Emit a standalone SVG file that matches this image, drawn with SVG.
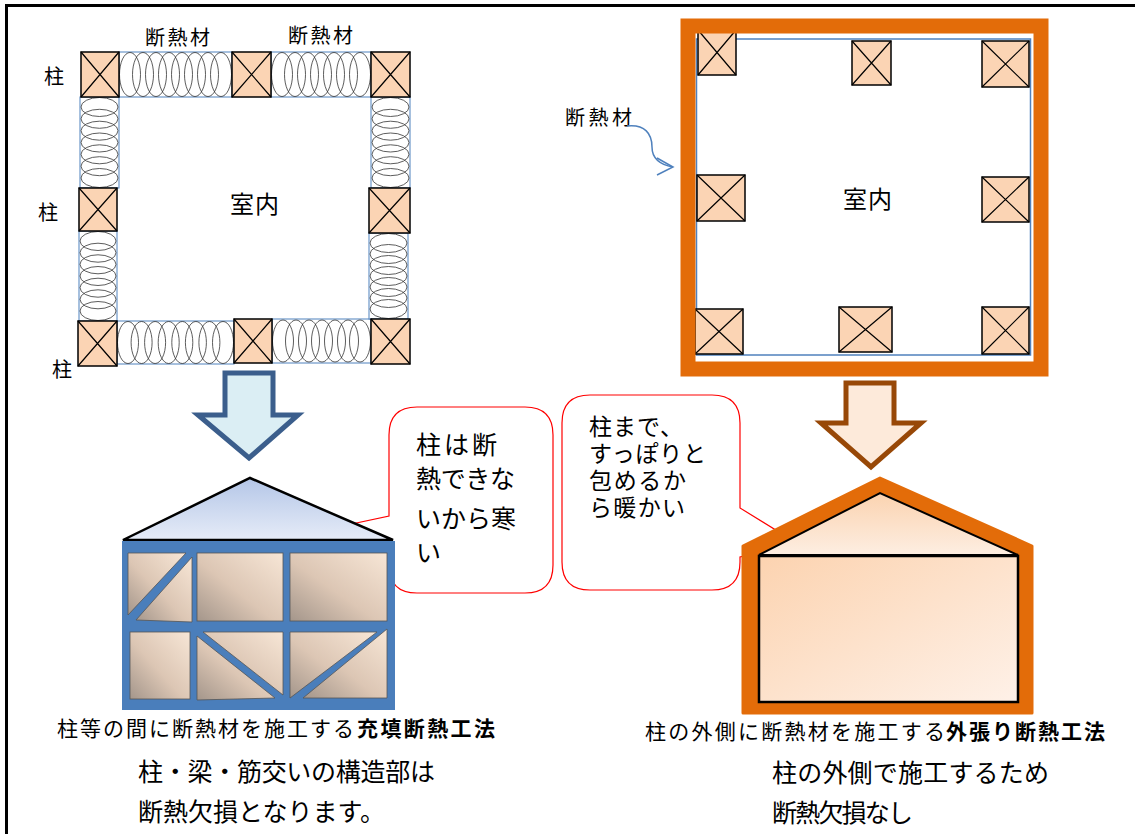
<svg xmlns="http://www.w3.org/2000/svg" width="1135" height="834" viewBox="0 0 1135 834">
  <style>
    text { font-family: "Noto Sans CJK JP", "Noto Sans", sans-serif; fill: #000; }
    .lbl { font-size: 20px; }
    .room { font-size: 24px; }
    .cap { font-size: 21px; }
    .capb { font-size: 21px; font-weight: bold; }
    .note { font-size: 25px; }
    .bub { font-size: 25px; }
    .bub2 { font-size: 23px; }
    .col rect { fill: #fbd4b4; stroke: #000; stroke-width: 1.5; }
    .col path { stroke: #000; stroke-width: 1.2; fill: none; }
    .ins rect { fill: #fff; stroke: #4f81bd; stroke-width: 1; }
    .ins ellipse { fill: none; stroke: #333; stroke-width: 0.8; }
    .panel { fill: url(#panelGrad); stroke: #555; stroke-width: 0.8; }
    .callout { fill: #fff; stroke: #ff0000; stroke-width: 1.2; }
  </style>
  <defs>
    <linearGradient id="panelGrad" x1="1" y1="0" x2="0" y2="1">
      <stop offset="0" stop-color="#f7e6d6"/>
      <stop offset="0.55" stop-color="#dcc6b4"/>
      <stop offset="1" stop-color="#a4968b"/>
    </linearGradient>
    <linearGradient id="roofBlue" x1="0" y1="0" x2="0" y2="1">
      <stop offset="0" stop-color="#b4c6e7"/>
      <stop offset="1" stop-color="#e6ecf8"/>
    </linearGradient>
    <linearGradient id="roofPeach" x1="0" y1="0" x2="0" y2="1">
      <stop offset="0" stop-color="#fbd3b0"/>
      <stop offset="1" stop-color="#fdeee2"/>
    </linearGradient>
    <linearGradient id="wallPeach" x1="0" y1="0" x2="1" y2="1">
      <stop offset="0" stop-color="#fcd3b0"/>
      <stop offset="1" stop-color="#fef1e8"/>
    </linearGradient>
  </defs>

  <rect width="1135" height="834" fill="#fff"/>

  <!-- outer frame (top and left edges) -->
  <g id="frame" stroke="#000" stroke-width="3">
    <line x1="5" y1="5.5" x2="1135" y2="5.5"/>
    <line x1="6.5" y1="4" x2="6.5" y2="834"/>
  </g>

  <!-- ===== Left plan: insulation between columns ===== -->
  <g id="plan-left">
    <g class="ins">
      <rect x="119" y="52" width="113" height="45"/>
      <ellipse cx="130" cy="74.5" rx="10.5" ry="22"/><ellipse cx="143" cy="74.5" rx="10.5" ry="22"/>
      <ellipse cx="156" cy="74.5" rx="10.5" ry="22"/><ellipse cx="169" cy="74.5" rx="10.5" ry="22"/>
      <ellipse cx="182" cy="74.5" rx="10.5" ry="22"/><ellipse cx="195" cy="74.5" rx="10.5" ry="22"/>
      <ellipse cx="208" cy="74.5" rx="10.5" ry="22"/><ellipse cx="221" cy="74.5" rx="10.5" ry="22"/>

      <rect x="271" y="52" width="100" height="45"/>
      <ellipse cx="282" cy="74.5" rx="10.5" ry="22"/><ellipse cx="295" cy="74.5" rx="10.5" ry="22"/>
      <ellipse cx="308" cy="74.5" rx="10.5" ry="22"/><ellipse cx="321" cy="74.5" rx="10.5" ry="22"/>
      <ellipse cx="334" cy="74.5" rx="10.5" ry="22"/><ellipse cx="347" cy="74.5" rx="10.5" ry="22"/>
      <ellipse cx="360" cy="74.5" rx="10.5" ry="22"/>

      <rect x="117" y="321" width="117" height="43"/>
      <ellipse cx="128" cy="342.5" rx="10.5" ry="21"/><ellipse cx="141.6" cy="342.5" rx="10.5" ry="21"/>
      <ellipse cx="155.1" cy="342.5" rx="10.5" ry="21"/><ellipse cx="168.7" cy="342.5" rx="10.5" ry="21"/>
      <ellipse cx="182.3" cy="342.5" rx="10.5" ry="21"/><ellipse cx="195.9" cy="342.5" rx="10.5" ry="21"/>
      <ellipse cx="209.4" cy="342.5" rx="10.5" ry="21"/><ellipse cx="223" cy="342.5" rx="10.5" ry="21"/>

      <rect x="272" y="319" width="99" height="44"/>
      <ellipse cx="283" cy="341" rx="10.5" ry="21"/><ellipse cx="296" cy="341" rx="10.5" ry="21"/>
      <ellipse cx="309" cy="341" rx="10.5" ry="21"/><ellipse cx="322" cy="341" rx="10.5" ry="21"/>
      <ellipse cx="335" cy="341" rx="10.5" ry="21"/><ellipse cx="348" cy="341" rx="10.5" ry="21"/>
      <ellipse cx="360" cy="341" rx="10.5" ry="21"/>

      <rect x="80" y="97" width="39" height="91"/>
      <ellipse cx="99.5" cy="107" rx="18.5" ry="9.5"/><ellipse cx="99.5" cy="118.8" rx="18.5" ry="9.5"/>
      <ellipse cx="99.5" cy="130.7" rx="18.5" ry="9.5"/><ellipse cx="99.5" cy="142.5" rx="18.5" ry="9.5"/>
      <ellipse cx="99.5" cy="154.3" rx="18.5" ry="9.5"/><ellipse cx="99.5" cy="166.2" rx="18.5" ry="9.5"/>
      <ellipse cx="99.5" cy="178" rx="18.5" ry="9.5"/>

      <rect x="371" y="97" width="39" height="91"/>
      <ellipse cx="390.5" cy="107" rx="18.5" ry="9.5"/><ellipse cx="390.5" cy="118.8" rx="18.5" ry="9.5"/>
      <ellipse cx="390.5" cy="130.7" rx="18.5" ry="9.5"/><ellipse cx="390.5" cy="142.5" rx="18.5" ry="9.5"/>
      <ellipse cx="390.5" cy="154.3" rx="18.5" ry="9.5"/><ellipse cx="390.5" cy="166.2" rx="18.5" ry="9.5"/>
      <ellipse cx="390.5" cy="178" rx="18.5" ry="9.5"/>

      <rect x="79" y="231" width="38" height="90"/>
      <ellipse cx="98" cy="241" rx="18" ry="9.5"/><ellipse cx="98" cy="252.7" rx="18" ry="9.5"/>
      <ellipse cx="98" cy="264.3" rx="18" ry="9.5"/><ellipse cx="98" cy="276" rx="18" ry="9.5"/>
      <ellipse cx="98" cy="287.7" rx="18" ry="9.5"/><ellipse cx="98" cy="299.3" rx="18" ry="9.5"/>
      <ellipse cx="98" cy="311" rx="18" ry="9.5"/>

      <rect x="369" y="233" width="39" height="86"/>
      <ellipse cx="388.5" cy="243" rx="18.5" ry="9.5"/><ellipse cx="388.5" cy="254" rx="18.5" ry="9.5"/>
      <ellipse cx="388.5" cy="265" rx="18.5" ry="9.5"/><ellipse cx="388.5" cy="276" rx="18.5" ry="9.5"/>
      <ellipse cx="388.5" cy="287" rx="18.5" ry="9.5"/><ellipse cx="388.5" cy="298" rx="18.5" ry="9.5"/>
      <ellipse cx="388.5" cy="309" rx="18.5" ry="9.5"/>
    </g>

    <g class="col">
      <rect x="81" y="52" width="38" height="45"/><path d="M81 52L119 97M119 52L81 97"/>
      <rect x="232" y="52" width="39" height="45"/><path d="M232 52L271 97M271 52L232 97"/>
      <rect x="371" y="52" width="39" height="45"/><path d="M371 52L410 97M410 52L371 97"/>
      <rect x="79" y="188" width="38" height="43"/><path d="M79 188L117 231M117 188L79 231"/>
      <rect x="369" y="188" width="41" height="45"/><path d="M369 188L410 233M410 188L369 233"/>
      <rect x="78" y="321" width="39" height="45"/><path d="M78 321L117 366M117 321L78 366"/>
      <rect x="234" y="319" width="38" height="44"/><path d="M234 319L272 363M272 319L234 363"/>
      <rect x="371" y="319" width="39" height="45"/><path d="M371 319L410 364M410 319L371 364"/>
    </g>

    <text class="lbl" x="145" y="45" textLength="65" lengthAdjust="spacing">断熱材</text>
    <text class="lbl" x="288" y="43" textLength="65" lengthAdjust="spacing">断熱材</text>
    <text class="lbl" x="44" y="84">柱</text>
    <text class="lbl" x="38" y="220">柱</text>
    <text class="lbl" x="52" y="377">柱</text>
    <text class="room" x="230" y="213" textLength="49" lengthAdjust="spacing">室内</text>
  </g>

  <!-- ===== Right plan: insulation outside columns ===== -->
  <g id="plan-right">
    <rect x="696.5" y="39" width="334" height="316" fill="none" stroke="#4f81bd" stroke-width="1.5"/>
    <g class="col">
      <rect x="698" y="30" width="38" height="45"/><path d="M698 30L736 75M736 30L698 75"/>
      <rect x="852" y="41" width="39" height="44"/><path d="M852 41L891 85M891 41L852 85"/>
      <rect x="982" y="41" width="47" height="46"/><path d="M982 41L1029 87M1029 41L982 87"/>
      <rect x="697" y="175" width="48" height="46"/><path d="M697 175L745 221M745 175L697 221"/>
      <rect x="982" y="177" width="47" height="45"/><path d="M982 177L1029 222M1029 177L982 222"/>
      <rect x="695" y="309" width="48" height="45"/><path d="M695 309L743 354M743 309L695 354"/>
      <rect x="839" y="307" width="53" height="45"/><path d="M839 307L892 352M892 307L839 352"/>
      <rect x="982" y="307" width="47" height="47"/><path d="M982 307L1029 354M1029 307L982 354"/>
    </g>
    <rect x="688" y="26" width="353" height="343" fill="none" stroke="#e36c09" stroke-width="15"/>
    <text class="lbl" x="565" y="125" textLength="67" lengthAdjust="spacing">断熱材</text>
    <text class="room" x="843" y="208" textLength="49" lengthAdjust="spacing">室内</text>
  </g>

  <!-- leader from the label to the outer wall -->
  <g id="connectors" fill="none" stroke="#4f81bd" stroke-width="1.5">
    <path d="M627 126C645 124 652 134 652 147C652 160 662 165 673 167"/>
    <polyline points="657,158 673,167 657,175"/>
  </g>

  <!-- ===== down arrows ===== -->
  <g id="arrow-left">
    <polygon points="225,373 273,373 273,415 298,415 249,458 198,415 225,415" fill="#dbeef4" stroke="#3b5e8c" stroke-width="5"/>
  </g>
  <g id="arrow-right">
    <polygon points="846,383 894,383 894,423 921,423 871,467 821,423 846,423" fill="#fdeada" stroke="#984807" stroke-width="5"/>
  </g>

  <!-- ===== speech bubbles ===== -->
  <g id="bubble-left">
    <path class="callout" d="M417 407H525Q553 407 553 435V565Q553 593 525 593H417Q389 593 389 565V548L300 535L389 516V435Q389 407 417 407Z"/>
    <text class="bub" x="416" y="454" textLength="81" lengthAdjust="spacing">柱は断</text>
    <text class="bub" x="416" y="488" textLength="99" lengthAdjust="spacing">熱できな</text>
    <text class="bub" x="416" y="528" textLength="100" lengthAdjust="spacing">いから寒</text>
    <text class="bub" x="416" y="562">い</text>
  </g>
  <g id="bubble-right">
    <path class="callout" d="M590 395H712Q740 395 740 423V508L800 545L740 557V562Q740 590 712 590H590Q562 590 562 562V423Q562 395 590 395Z"/>
    <text class="bub2" x="589" y="435">
      <tspan x="589" y="435" textLength="94" lengthAdjust="spacing">柱まで、</tspan>
      <tspan x="589" y="462" textLength="117" lengthAdjust="spacing">すっぽりと</tspan>
      <tspan x="589" y="489" textLength="97" lengthAdjust="spacing">包めるか</tspan>
      <tspan x="589" y="516" textLength="96" lengthAdjust="spacing">ら暖かい</tspan>
    </text>
  </g>

  <!-- ===== left house: framed wall with panels ===== -->
  <g id="house-left">
    <polygon points="123,540 250,478 393,540" fill="url(#roofBlue)" stroke="#000" stroke-width="2.5" stroke-linejoin="miter"/>
    <rect x="122" y="541" width="273" height="169" fill="#4a7ebb"/>
    <polygon class="panel" points="128,553 186,553 128,615"/>
    <polygon class="panel" points="192,557 192,622 136,620"/>
    <rect class="panel" x="197" y="553" width="86" height="68"/>
    <rect class="panel" x="290" y="553" width="97" height="68"/>
    <rect class="panel" x="130" y="632" width="60" height="67"/>
    <polygon class="panel" points="203,632 283,632 283,695"/>
    <polygon class="panel" points="197,636 197,700 275,698"/>
    <polygon class="panel" points="290,632 377,632 290,698"/>
    <polygon class="panel" points="387,629 387,698 303,698"/>
  </g>

  <!-- ===== right house: continuous outer insulation ===== -->
  <g id="house-right">
    <polygon points="743,546 880,478 1032,546 1032,713 743,713" fill="#e36c09" stroke="#e36c09" stroke-width="3" stroke-linejoin="round"/>
    <polygon points="759,555 880,493 1018,555" fill="url(#roofPeach)" stroke="#000" stroke-width="2"/>
    <rect x="759" y="556" width="259" height="146" fill="url(#wallPeach)" stroke="#000" stroke-width="2.5"/>
  </g>

  <!-- ===== captions ===== -->
  <g id="caption-left">
    <text class="cap" x="57" y="736" textLength="297" lengthAdjust="spacing">柱等の間に断熱材を施工する</text>
    <text class="capb" x="357" y="736" textLength="138" lengthAdjust="spacing">充填断熱工法</text>
    <text class="note" x="138" y="781" textLength="297" lengthAdjust="spacing">柱・梁・筋交いの構造部は</text>
    <text class="note" x="138" y="821" textLength="247" lengthAdjust="spacing">断熱欠損となります。</text>
  </g>
  <g id="caption-right">
    <text class="cap" x="645" y="739" textLength="300" lengthAdjust="spacing">柱の外側に断熱材を施工する</text>
    <text class="capb" x="946" y="739" textLength="159" lengthAdjust="spacing">外張り断熱工法</text>
    <text class="note" x="772" y="782" textLength="277" lengthAdjust="spacing">柱の外側で施工するため</text>
    <text class="note" x="772" y="822" textLength="141" lengthAdjust="spacing">断熱欠損なし</text>
  </g>
</svg>
